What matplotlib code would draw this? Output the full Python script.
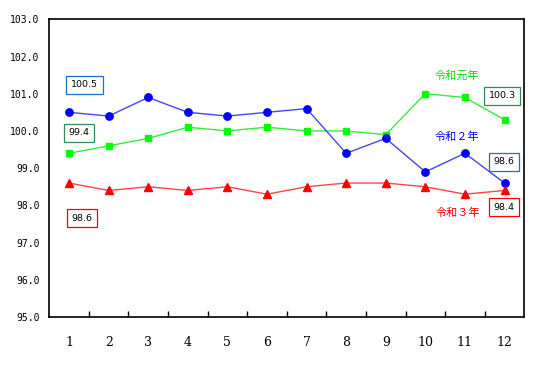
import matplotlib.pyplot as plt

# monthly index values
months = list(range(1, 13))
r1 = [99.4, 99.6, 99.8, 100.1, 100.0, 100.1, 100.0, 100.0, 99.9, 101.0, 100.9, 100.3]
r2 = [100.5, 100.4, 100.9, 100.5, 100.4, 100.5, 100.6, 99.4, 99.8, 98.9, 99.4, 98.6]
r3 = [98.6, 98.4, 98.5, 98.4, 98.5, 98.3, 98.5, 98.6, 98.6, 98.5, 98.3, 98.4]
yticks = [95.0, 96.0, 97.0, 98.0, 99.0, 100.0, 101.0, 102.0, 103.0]

plt.rcParams['font.family'] = ['Noto Sans CJK JP', 'DejaVu Sans']

fig = plt.figure(figsize=(5.47, 3.75), dpi=100)
ax = fig.add_axes([0.0901, 0.1547, 0.8684, 0.7938])

ax.plot(months, r1, color='#33ee33', lw=1, marker='s', ms=5, mfc='#00ff00', mec='#00ff00')
ax.plot(months, r2, color='#4444ff', lw=1, marker='o', ms=5.3, mfc='#0000ff', mec='#0000ff')
ax.plot(months, r3, color='#ff4444', lw=1, marker='^', ms=5.3, mfc='#ff0000', mec='#ff0000')

ax.set_xlim(0.5, 12.5)
ax.set_ylim(95, 103)

# x ticks sit between the months, labels at the months
ax.set_xticks([m + 0.5 for m in months[:-1]])
ax.set_xticklabels([])
ax.set_xticks(months, minor=True)
ax.set_xticklabels([str(m) for m in months], minor=True,
                   fontfamily='DejaVu Serif', fontsize=9)
ax.tick_params(axis='x', which='major', direction='in', length=4, width=1)
ax.tick_params(axis='x', which='minor', length=0, pad=14)

ax.set_yticks(yticks)
ax.set_yticklabels(['%.1f' % v for v in yticks], fontfamily='DejaVu Sans Mono', fontsize=7)
ax.tick_params(axis='y', length=0, pad=7)

for s in ax.spines.values():
    s.set_linewidth(1.2)

# series names
ax.text(10.79, 101.48, '令和元年', color='#00dd00', fontsize=8, ha='center', va='center')
ax.text(10.81, 99.83, '令和２年', color='#0000ff', fontsize=8, ha='center', va='center')
ax.text(10.83, 97.81, '令和３年', color='#ff0000', fontsize=8, ha='center', va='center')

# value boxes for first and last month
def box(x, y, val, ec):
    ax.text(x, y, '%.1f' % val, fontsize=6.8, ha='center', va='center', fontfamily='DejaVu Sans',
            bbox=dict(boxstyle='square,pad=0.5', fc='white', ec=ec, lw=0.9))

box(1.39, 101.24, r2[0], '#1a6fd0')
box(1.25, 99.95, r1[0], '#2e8b57')
box(1.33, 97.66, r3[0], '#ff0000')
box(11.94, 100.94, r1[-1], '#2e8b57')
box(11.99, 99.17, r2[-1], '#1a6fd0')
box(11.99, 97.95, r3[-1], '#ff0000')

plt.savefig('out.png', dpi=100)
